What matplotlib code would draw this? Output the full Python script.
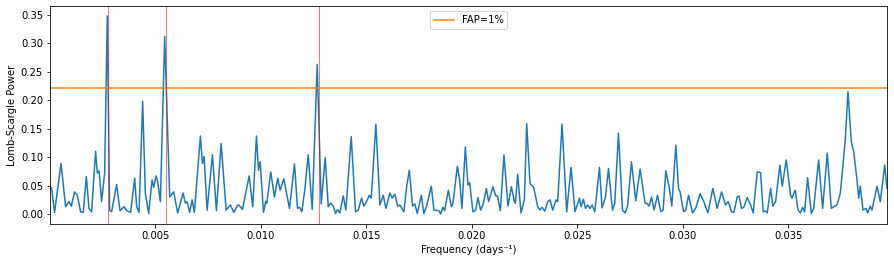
import matplotlib
matplotlib.use("Agg")
import matplotlib.pyplot as plt

freq = [0.00002, 0.000095, 0.000237, 0.000541, 0.000759, 0.00092, 0.001029, 0.001186, 0.001314, 0.00147,
        0.001598, 0.00174, 0.001868, 0.001992, 0.002181, 0.002262, 0.002343, 0.002466, 0.002608, 0.002736,
        0.002845, 0.00294, 0.003177, 0.003339, 0.003528, 0.003652, 0.003841, 0.004031, 0.004126, 0.00424,
        0.00441, 0.004538, 0.004695, 0.004856, 0.004932, 0.005046, 0.005122, 0.00525, 0.005454, 0.005691,
        0.00588, 0.00607, 0.006326, 0.006435, 0.006516, 0.006639, 0.006753, 0.006862, 0.007147, 0.007241,
        0.007322, 0.007464, 0.007716, 0.007905, 0.008128, 0.008365, 0.008569, 0.008726, 0.008916, 0.008996,
        0.009138, 0.009456, 0.009627, 0.009802, 0.009897, 0.009978, 0.010134, 0.010243, 0.010291, 0.01048,
        0.010656, 0.010812, 0.010926, 0.011097, 0.011367, 0.011604, 0.011747, 0.011842, 0.011951, 0.012093,
        0.012254, 0.012444, 0.012681, 0.01287, 0.01306, 0.013203, 0.013312, 0.01344, 0.013549, 0.013644,
        0.013753, 0.013914, 0.014037, 0.014293, 0.014497, 0.014625, 0.014782, 0.014891, 0.015019, 0.015147,
        0.015242, 0.01546, 0.01565, 0.015811, 0.015934, 0.016124, 0.016238, 0.016361, 0.016489, 0.016598,
        0.016788, 0.016916, 0.017044, 0.0172, 0.017309, 0.017423, 0.017613, 0.017736, 0.017879, 0.018087,
        0.01821, 0.018448, 0.018528, 0.018637, 0.018718, 0.018893, 0.019035, 0.019111, 0.01932, 0.019429,
        0.019538, 0.0197, 0.019823, 0.019903, 0.02006, 0.020188, 0.020297, 0.020425, 0.020534, 0.020695,
        0.020804, 0.021008, 0.021137, 0.021217, 0.021359, 0.02153, 0.02172, 0.021881, 0.022023, 0.02207,
        0.02218, 0.022336, 0.022497, 0.022606, 0.022763, 0.022938, 0.023128, 0.023237, 0.023332, 0.02346,
        0.023602, 0.023711, 0.023839, 0.023996, 0.024076, 0.02428, 0.024503, 0.024707, 0.024897, 0.025106,
        0.025181, 0.025295, 0.02539, 0.025499, 0.025608, 0.025703, 0.025831, 0.026054, 0.026177, 0.026339,
        0.026481, 0.02667, 0.026779, 0.026955, 0.027145, 0.027268, 0.027382, 0.027572, 0.027775, 0.027979,
        0.028217, 0.028331, 0.028406, 0.02852, 0.028643, 0.028804, 0.028961, 0.02907, 0.029198, 0.029355,
        0.029483, 0.029672, 0.029801, 0.029876, 0.030038, 0.030147, 0.030275, 0.030464, 0.030621, 0.030825,
        0.030891, 0.031, 0.03119, 0.031427, 0.031631, 0.031839, 0.032029, 0.032153, 0.032314, 0.032423,
        0.032579, 0.03266, 0.032788, 0.032897, 0.033054, 0.033215, 0.033339, 0.033528, 0.033689, 0.033813,
        0.033893, 0.034002, 0.034163, 0.034272, 0.0344, 0.034604, 0.034714, 0.034903, 0.035112, 0.035174,
        0.03533, 0.035458, 0.035567, 0.035681, 0.035776, 0.035918, 0.036089, 0.036203, 0.036439, 0.036629,
        0.036848, 0.037037, 0.037151, 0.037308, 0.037464, 0.037625, 0.037701, 0.037829, 0.037986, 0.0381,
        0.038256, 0.038337, 0.038413, 0.038541, 0.038683, 0.038763, 0.038887, 0.038967, 0.039204, 0.039361,
        0.039569, 0.039678]

power = [0.043, 0.046, 0.003, 0.089, 0.013, 0.022, 0.014, 0.039, 0.033, 0.004,
         0.003, 0.066, 0.010, 0.004, 0.110, 0.072, 0.076, 0.022, 0.072, 0.348,
         0.007, 0.004, 0.052, 0.006, 0.013, 0.006, 0.003, 0.063, 0.013, 0.003,
         0.198, 0.036, 0.001, 0.060, 0.047, 0.067, 0.057, 0.022, 0.312, 0.030,
         0.039, 0.002, 0.037, 0.019, 0.022, 0.003, 0.025, 0.003, 0.137, 0.089,
         0.101, 0.007, 0.104, 0.006, 0.124, 0.007, 0.016, 0.003, 0.016, 0.015,
         0.008, 0.067, 0.013, 0.137, 0.077, 0.092, 0.003, 0.022, 0.019, 0.074,
         0.030, 0.063, 0.042, 0.062, 0.010, 0.088, 0.010, 0.012, 0.004, 0.043,
         0.104, 0.008, 0.263, 0.018, 0.099, 0.013, 0.019, 0.014, 0.001, 0.008,
         0.002, 0.032, 0.007, 0.136, 0.004, 0.007, 0.028, 0.014, 0.022, 0.033,
         0.028, 0.158, 0.016, 0.033, 0.010, 0.037, 0.028, 0.035, 0.014, 0.016,
         0.004, 0.048, 0.077, 0.014, 0.018, 0.001, 0.033, 0.001, 0.016, 0.049,
         0.007, 0.006, 0.000, 0.012, 0.006, 0.042, 0.013, 0.018, 0.084, 0.060,
         0.010, 0.118, 0.051, 0.055, 0.004, 0.007, 0.029, 0.007, 0.016, 0.045,
         0.022, 0.048, 0.032, 0.032, 0.006, 0.104, 0.014, 0.048, 0.022, 0.019,
         0.070, 0.002, 0.025, 0.159, 0.054, 0.047, 0.013, 0.007, 0.012, 0.005,
         0.022, 0.025, 0.007, 0.025, 0.022, 0.158, 0.004, 0.082, 0.004, 0.028,
         0.013, 0.026, 0.010, 0.016, 0.010, 0.016, 0.004, 0.082, 0.011, 0.030,
         0.080, 0.007, 0.019, 0.142, 0.007, 0.002, 0.013, 0.092, 0.023, 0.079,
         0.019, 0.018, 0.014, 0.030, 0.007, 0.033, 0.004, 0.007, 0.076, 0.048,
         0.014, 0.121, 0.045, 0.039, 0.004, 0.007, 0.033, 0.002, 0.011, 0.036,
         0.030, 0.022, 0.002, 0.045, 0.010, 0.039, 0.016, 0.022, 0.004, 0.003,
         0.030, 0.032, 0.010, 0.012, 0.029, 0.016, 0.002, 0.074, 0.073, 0.004,
         0.006, 0.002, 0.045, 0.014, 0.022, 0.086, 0.049, 0.095, 0.033, 0.028,
         0.042, 0.008, 0.002, 0.012, 0.004, 0.064, 0.001, 0.010, 0.095, 0.010,
         0.107, 0.010, 0.013, 0.016, 0.036, 0.101, 0.130, 0.215, 0.127, 0.110,
         0.060, 0.028, 0.049, 0.007, 0.010, 0.002, 0.014, 0.007, 0.049, 0.022,
         0.086, 0.045]

best_freqs = [0.00275, 0.0055, 0.01276]
fap_level = 0.221
fap_label = "FAP=1%"

W, H, DPI = 894, 262, 72
fig = plt.figure(figsize=(W / DPI, H / DPI), dpi=DPI)
ax = fig.add_axes([50 / W, 1 - 224 / H, (887 - 50) / W, (224 - 6) / H])

ax.plot(freq, power, color="#1f77b4", lw=1.5)
for bf in best_freqs:
    ax.axvline(bf, color="red", alpha=0.55, lw=1)
ax.axhline(fap_level, color="#ff7f0e", lw=1.5, label=fap_label)

ax.set_xlim(freq[0], freq[-1])
ax.set_xlabel("Frequency (days\u207b\u00b9)", fontsize=10)
ax.set_ylabel("Lomb-Scargle Power", fontsize=10)
ax.tick_params(labelsize=10)
ax.legend(loc="upper center", fontsize=10)

fig.savefig("out.png", dpi=DPI)
